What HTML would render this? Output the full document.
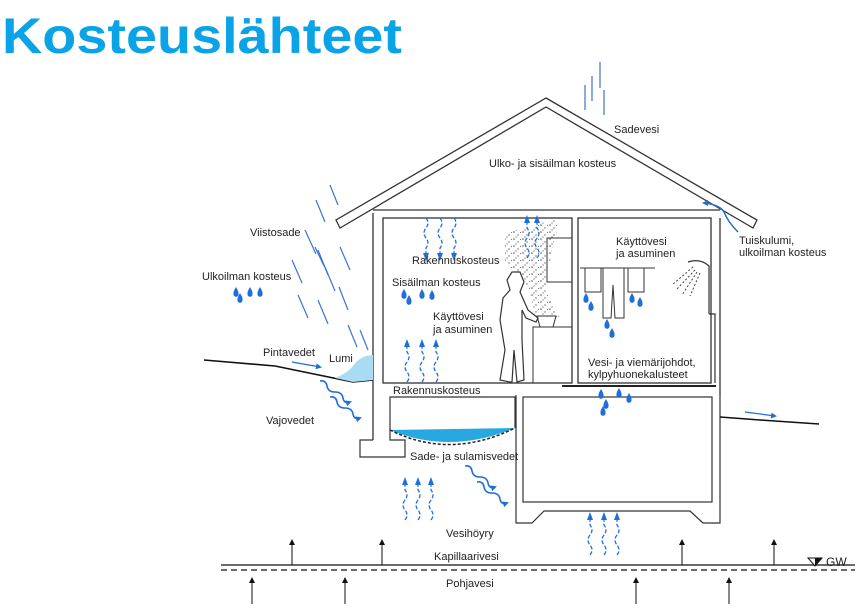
<!DOCTYPE html>
<html><head><meta charset="utf-8"><style>
html,body{margin:0;padding:0;background:#fff;width:863px;height:609px;overflow:hidden}
svg{display:block}
text{font-family:"Liberation Sans",sans-serif;font-size:11px;fill:#222}
</style></head><body>
<svg width="863" height="609" viewBox="0 0 863 609" xmlns="http://www.w3.org/2000/svg">
<defs>
<marker id="ab" markerWidth="6" markerHeight="6" refX="4" refY="3" orient="auto" markerUnits="userSpaceOnUse"><path d="M0,0 L6,3 L0,6 Z" fill="#1e6fd9"/></marker>
<marker id="ak" markerWidth="6" markerHeight="8" refX="5" refY="4" orient="auto" markerUnits="userSpaceOnUse"><path d="M0,1 L6,4 L0,7 Z" fill="#111"/></marker>
<pattern id="dots" width="9" height="7" patternUnits="userSpaceOnUse"><circle cx="1" cy="1" r="0.8" fill="#555"/><circle cx="5" cy="4" r="0.7" fill="#666"/><circle cx="7.5" cy="1.5" r="0.6" fill="#777"/><circle cx="3" cy="6" r="0.6" fill="#555"/></pattern>
<g id="wu"><path d="M0,0 q4,-5 0,-10 t0,-10 t0,-10 l0,-6" fill="none" stroke="#1e6fd9" stroke-width="1.3" stroke-dasharray="4,2"/><path d="M0,-43 L-3,-35 L3,-35Z" fill="#1e6fd9"/></g>
<g id="wd"><path d="M0,0 q4,5 0,10 t0,10 t0,10 l0,6" fill="none" stroke="#1e6fd9" stroke-width="1.3" stroke-dasharray="4,2"/><path d="M0,43 L-3,35 L3,35Z" fill="#1e6fd9"/></g>
<g id="drop"><path d="M0,-5 Q3,0 2.5,1.5 A2.6,2.6 0 1 1 -2.5,1.5 Q-3,0 0,-5Z" fill="#1e6fd9"/></g>
<g id="wv"><path d="M0,0 q6,-1 7,5 t8,6 t8,6 t7,4" fill="none" stroke="#1e6fd9" stroke-width="1.6" marker-end="url(#ab)"/></g>
</defs>

<text x="2" y="53" style="font-size:50px;font-weight:bold;fill:#0aa3e8" textLength="400" lengthAdjust="spacingAndGlyphs">Kosteuslähteet</text>

<!-- roof -->
<polygon points="546,98 757,220 753,228 546,107 340,228 336,220" fill="#fff" stroke="#333" stroke-width="1.3"/>
<!-- upper house -->
<path d="M373,213 L373,440 M720,218 L720,395" stroke="#333" stroke-width="1.3" fill="none"/>
<line x1="373" y1="210" x2="720" y2="210" stroke="#333" stroke-width="1.3"/>
<rect x="383" y="218" width="189" height="165" fill="none" stroke="#333" stroke-width="1.3"/>
<rect x="578" y="218" width="133" height="165" fill="none" stroke="#333" stroke-width="1.3"/>
<!-- kitchen -->
<rect x="547" y="238" width="25" height="44" fill="none" stroke="#333" stroke-width="1"/>
<rect x="533" y="327" width="39" height="56" fill="none" stroke="#333" stroke-width="1"/>
<path d="M537,316 L556,316 L553,327 L540,327Z" fill="none" stroke="#333"/>
<polygon points="505,233 560,218 552,250 545,290 560,318 535,318 530,290 505,262" fill="url(#dots)"/>
<path d="M510,382 L500,380 L505,350 L500,320 L503,298 L510,290 L507,280 L512,272 L520,272 L524,282 L520,292 L528,310 L538,318 L536,322 L526,318 L522,310 L522,340 L524,380 L517,382 L514,350 L512,382Z" fill="#fff" stroke="#333" stroke-width="1.2"/>
<use href="#wu" x="527" y="258"/><use href="#wu" x="537" y="258"/>
<!-- bathroom -->
<line x1="580" y1="268" x2="655" y2="268" stroke="#333"/>
<rect x="585" y="268" width="16" height="24" fill="none" stroke="#333"/>
<rect x="628" y="268" width="16" height="24" fill="none" stroke="#333"/>
<path d="M603,268 L603,318 L611,318 L613,285 L615,318 L624,318 L624,268Z" fill="none" stroke="#333"/>
<path d="M688,262 Q700,258 709,266 L709,314 M709,314 L715,314 L715,383" fill="none" stroke="#333" stroke-width="1.2"/>
<path d="M695,270 L676,290 M697,272 L682,295 M700,273 L690,296 M693,267 L672,285" stroke="#444" stroke-dasharray="2,2"/>
<line x1="562" y1="386" x2="716" y2="386" stroke="#222" stroke-width="2"/>
<!-- lower -->
<path d="M373,440 L360,440 L360,457 L405,457 L405,440 L390,440 L390,397 L515,397 L515,428" fill="none" stroke="#333" stroke-width="1.2"/>
<path d="M390,430 Q450,455 515,428 Z" fill="#27a8e0"/>
<path d="M390,430 Q450,460 515,428" fill="none" stroke="#222" stroke-dasharray="3,2" stroke-width="1.5"/>
<path d="M516,395 L516,523 L532,523 L544,511 L690,511 L703,523 L720,523 L720,395" fill="none" stroke="#333" stroke-width="1.2"/>
<rect x="523" y="397" width="189" height="105" fill="none" stroke="#333" stroke-width="1.2"/>
<!-- ground -->
<path d="M204,360 L275,366 L353,382 L373,380" fill="none" stroke="#111" stroke-width="1.6"/>
<path d="M335,378 Q350,372 356,362 Q364,355 373,355 L373,380 L353,382Z" fill="#a9dcf2"/>
<path d="M720,417 L760,420 L819,424" fill="none" stroke="#111" stroke-width="1.6"/>
<line x1="745" y1="412" x2="775" y2="416" stroke="#1e6fd9" stroke-width="1.3" marker-end="url(#ab)"/>
<line x1="292" y1="362" x2="320" y2="367" stroke="#1e6fd9" stroke-width="1.3" marker-end="url(#ab)"/>
<!-- GW -->
<line x1="221" y1="565" x2="855" y2="565" stroke="#111" stroke-width="1.3"/>
<line x1="221" y1="570" x2="855" y2="570" stroke="#111" stroke-width="1.3" stroke-dasharray="6,4"/>
<path d="M808,558 L822,558 L815,566Z" fill="#fff" stroke="#111"/><path d="M815,558 L822,558 L815,566Z" fill="#111"/>
<text x="826" y="566" style="font-size:12px">GW</text>
<g stroke="#111" stroke-width="1">
<line x1="292" y1="565" x2="292" y2="540" marker-end="url(#ak)"/><line x1="382" y1="565" x2="382" y2="540" marker-end="url(#ak)"/>
<line x1="682" y1="565" x2="682" y2="540" marker-end="url(#ak)"/><line x1="774" y1="565" x2="774" y2="540" marker-end="url(#ak)"/>
<line x1="252" y1="604" x2="252" y2="578" marker-end="url(#ak)"/><line x1="345" y1="604" x2="345" y2="578" marker-end="url(#ak)"/>
<line x1="636" y1="604" x2="636" y2="578" marker-end="url(#ak)"/><line x1="729" y1="604" x2="729" y2="578" marker-end="url(#ak)"/>
</g>
<!-- rain -->
<g stroke="#3a74d0" stroke-width="1.2">
<line x1="330" y1="185" x2="338" y2="205"/><line x1="316" y1="200" x2="325" y2="222"/>
<line x1="305" y1="230" x2="316" y2="254"/><line x1="315" y1="247" x2="324" y2="266"/>
<line x1="318" y1="250" x2="328" y2="275"/><line x1="340" y1="247" x2="350" y2="270"/>
<line x1="292" y1="260" x2="302" y2="283"/><line x1="325" y1="267" x2="335" y2="291"/>
<line x1="339" y1="287" x2="348" y2="310"/><line x1="298" y1="295" x2="308" y2="318"/>
<line x1="318" y1="300" x2="328" y2="324"/><line x1="348" y1="325" x2="357" y2="347"/>
<line x1="360" y1="330" x2="368" y2="350"/>
<line x1="585" y1="85" x2="585" y2="110"/><line x1="592" y1="76" x2="592" y2="101"/>
<line x1="600" y1="62" x2="600" y2="88"/><line x1="604" y1="90" x2="604" y2="115"/>
</g>
<path d="M705,203 Q720,205 724,212 Q728,222 738,232" fill="none" stroke="#1e6fd9" stroke-width="1.5"/>
<path d="M710,203 L704,203" stroke="#1e6fd9" marker-end="url(#ab)"/>
<!-- wavy arrows -->
<use href="#wd" x="426" y="218"/><use href="#wd" x="440" y="218"/><use href="#wd" x="454" y="218"/>
<use href="#wu" x="407" y="382"/><use href="#wu" x="422" y="382"/><use href="#wu" x="436" y="382"/>
<use href="#wu" x="405" y="520"/><use href="#wu" x="418" y="520"/><use href="#wu" x="431" y="520"/>
<use href="#wu" x="590" y="555"/><use href="#wu" x="604" y="555"/><use href="#wu" x="617" y="555"/>
<use href="#wv" x="320" y="381"/><use href="#wv" x="330" y="397"/>
<use href="#wv" x="465" y="466"/><use href="#wv" x="477" y="482"/>
<!-- drops -->
<use href="#drop" x="236" y="292"/><use href="#drop" x="240" y="298"/><use href="#drop" x="250" y="292"/><use href="#drop" x="260" y="292"/>
<use href="#drop" x="404" y="294"/><use href="#drop" x="409" y="300"/><use href="#drop" x="422" y="294"/><use href="#drop" x="432" y="295"/>
<use href="#drop" x="586" y="298"/><use href="#drop" x="591" y="306"/><use href="#drop" x="632" y="298"/><use href="#drop" x="640" y="302"/>
<use href="#drop" x="607" y="324"/><use href="#drop" x="612" y="333"/>
<use href="#drop" x="601" y="394"/><use href="#drop" x="619" y="393"/><use href="#drop" x="629" y="398"/><use href="#drop" x="606" y="404"/><use href="#drop" x="603" y="411"/>
<!-- labels -->
<text x="614" y="133">Sadevesi</text>
<text x="489" y="167">Ulko- ja sisäilman kosteus</text>
<text x="250" y="236">Viistosade</text>
<text x="202" y="280">Ulkoilman kosteus</text>
<text x="412" y="264">Rakennuskosteus</text>
<text x="392" y="286">Sisäilman kosteus</text>
<text x="433" y="320">Käyttövesi</text><text x="433" y="333">ja asuminen</text>
<text x="616" y="245">Käyttövesi</text><text x="616" y="257">ja asuminen</text>
<text x="739" y="244">Tuiskulumi,</text><text x="739" y="256">ulkoilman kosteus</text>
<text x="263" y="356">Pintavedet</text>
<text x="329" y="362">Lumi</text>
<text x="393" y="394">Rakennuskosteus</text>
<text x="588" y="366">Vesi- ja viemärijohdot,</text><text x="588" y="378">kylpyhuonekalusteet</text>
<text x="266" y="424">Vajovedet</text>
<text x="410" y="460">Sade- ja sulamisvedet</text>
<text x="446" y="537">Vesihöyry</text>
<text x="434" y="560">Kapillaarivesi</text>
<text x="446" y="587">Pohjavesi</text>
</svg>
</body></html>
